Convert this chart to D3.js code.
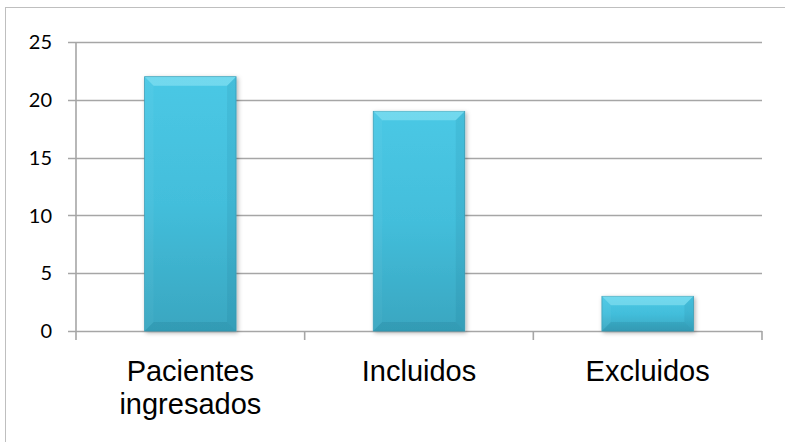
<!DOCTYPE html>
<meta charset="utf-8">
<style>
body { margin: 0; background: #fff; }
.grid line { stroke: #a6a6a6; stroke-width: 1.6px; }
.ylab text { font-family: Lato, "Open Sans", sans-serif; font-size: 20px; fill: #000; }
.xlab text { font-family: "Liberation Sans", Arial, sans-serif; font-size: 29px; fill: #000; }
</style>
<body>
<svg width="785" height="442"></svg>
</body>
<script src="https://d3js.org/d3.v7.min.js"></script>
<script>

var categories = ["Pacientes ingresados", "Incluidos", "Excluidos"];
var values = [22, 19, 3];
var yTicks = [0, 5, 10, 15, 20, 25];

var svg = d3.select("svg");

// outer chart border
svg.append("rect")
    .attr("x", 5.5).attr("y", 7.5)
    .attr("width", 800).attr("height", 460)
    .attr("fill", "none").attr("stroke", "#bfbfbf");

var plotL = 76, plotR = 762, plotT = 42, plotB = 331;

var x = d3.scaleBand().domain(categories).range([plotL, plotR]).paddingInner(0.6).paddingOuter(0.3);
var band = d3.scaleBand().domain(categories).range([plotL, plotR]);
var y = d3.scaleLinear().domain([0, 25]).range([plotB, plotT]);

var defs = svg.append("defs");
var g1 = defs.append("linearGradient").attr("id", "face").attr("x1", 0).attr("x2", 0).attr("y1", 0).attr("y2", 1);
g1.append("stop").attr("offset", "0%").attr("stop-color", "#4ac8e5");
g1.append("stop").attr("offset", "50%").attr("stop-color", "#43bedb");
g1.append("stop").attr("offset", "100%").attr("stop-color", "#39a6c0");

var f = defs.append("filter").attr("id", "shadow").attr("x", "-10%").attr("y", "-10%").attr("width", "130%").attr("height", "130%");
f.append("feDropShadow").attr("dx", 1.5).attr("dy", 1.5).attr("stdDeviation", 2)
    .attr("flood-color", "#000").attr("flood-opacity", 0.3);

// gridlines
svg.append("g").attr("class", "grid")
  .selectAll("line").data(yTicks.slice(1)).enter().append("line")
    .attr("x1", plotL - 8).attr("x2", plotR)
    .attr("y1", function(d) { return Math.round(y(d)) + 0.5; })
    .attr("y2", function(d) { return Math.round(y(d)) + 0.5; });

// axes
var axes = svg.append("g").attr("class", "grid");
axes.append("line").attr("x1", plotL).attr("x2", plotL).attr("y1", plotT).attr("y2", plotB + 9);
axes.append("line").attr("x1", plotL - 8).attr("x2", plotR).attr("y1", Math.round(y(0)) + 0.5).attr("y2", Math.round(y(0)) + 0.5);
axes.selectAll(".xt").data(categories).enter().append("line")
    .attr("x1", function(d) { return band(d) + band.bandwidth(); })
    .attr("x2", function(d) { return band(d) + band.bandwidth(); })
    .attr("y1", plotB).attr("y2", plotB + 9);

// y labels
svg.append("g").attr("class", "ylab")
  .selectAll("text").data(yTicks).enter().append("text")
    .attr("x", 52).attr("y", function(d) { return y(d); })
    .attr("dy", "0.36em").attr("text-anchor", "end")
    .text(function(d) { return d; });

// bars with bevel
var bars = svg.append("g").selectAll("g").data(values).enter().append("g")
    .attr("filter", "url(#shadow)");

var bv = 9;
bars.append("rect")
    .attr("x", function(d, i) { return x(categories[i]); })
    .attr("y", function(d) { return y(d); })
    .attr("width", x.bandwidth())
    .attr("height", function(d) { return y(0) - y(d); })
    .attr("fill", "url(#face)")
    .attr("stroke", "#3a9fb8").attr("stroke-width", 0.8);

function bevel(sel, pts, fill) {
  sel.append("polygon")
    .attr("points", function(d, i) {
      var x0 = x(categories[i]), x1 = x0 + x.bandwidth(), y0 = y(d), y1 = y(0);
      var b = Math.min(bv, (y1 - y0) / 2);
      return pts(x0, x1, y0, y1, b).map(function(p) { return p.join(","); }).join(" ");
    })
    .attr("fill", fill);
}
// top
bevel(bars, function(x0, x1, y0, y1, b) { return [[x0, y0], [x1, y0], [x1 - b, y0 + b], [x0 + b, y0 + b]]; }, "rgba(190,250,255,0.35)");
// left
bevel(bars, function(x0, x1, y0, y1, b) { return [[x0, y0], [x0 + b, y0 + b], [x0 + b, y1 - b], [x0, y1]]; }, "rgba(255,255,255,0.04)");
// right
bevel(bars, function(x0, x1, y0, y1, b) { return [[x1, y0], [x1 - b, y0 + b], [x1 - b, y1 - b], [x1, y1]]; }, "rgba(0,60,80,0.07)");
// bottom
bevel(bars, function(x0, x1, y0, y1, b) { return [[x0, y1], [x0 + b, y1 - b], [x1 - b, y1 - b], [x1, y1]]; }, "rgba(0,60,80,0.1)");

// category labels
var xl = svg.append("g").attr("class", "xlab");
categories.forEach(function(c) {
  var t = xl.append("text").attr("text-anchor", "middle")
      .attr("x", band(c) + band.bandwidth() / 2).attr("y", 381);
  var words = c === "Pacientes ingresados" ? ["Pacientes", "ingresados"] : [c];
  words.forEach(function(w, k) {
    t.append("tspan").attr("x", band(c) + band.bandwidth() / 2).attr("dy", k ? 33 : 0).text(w);
  });
});

</script>
